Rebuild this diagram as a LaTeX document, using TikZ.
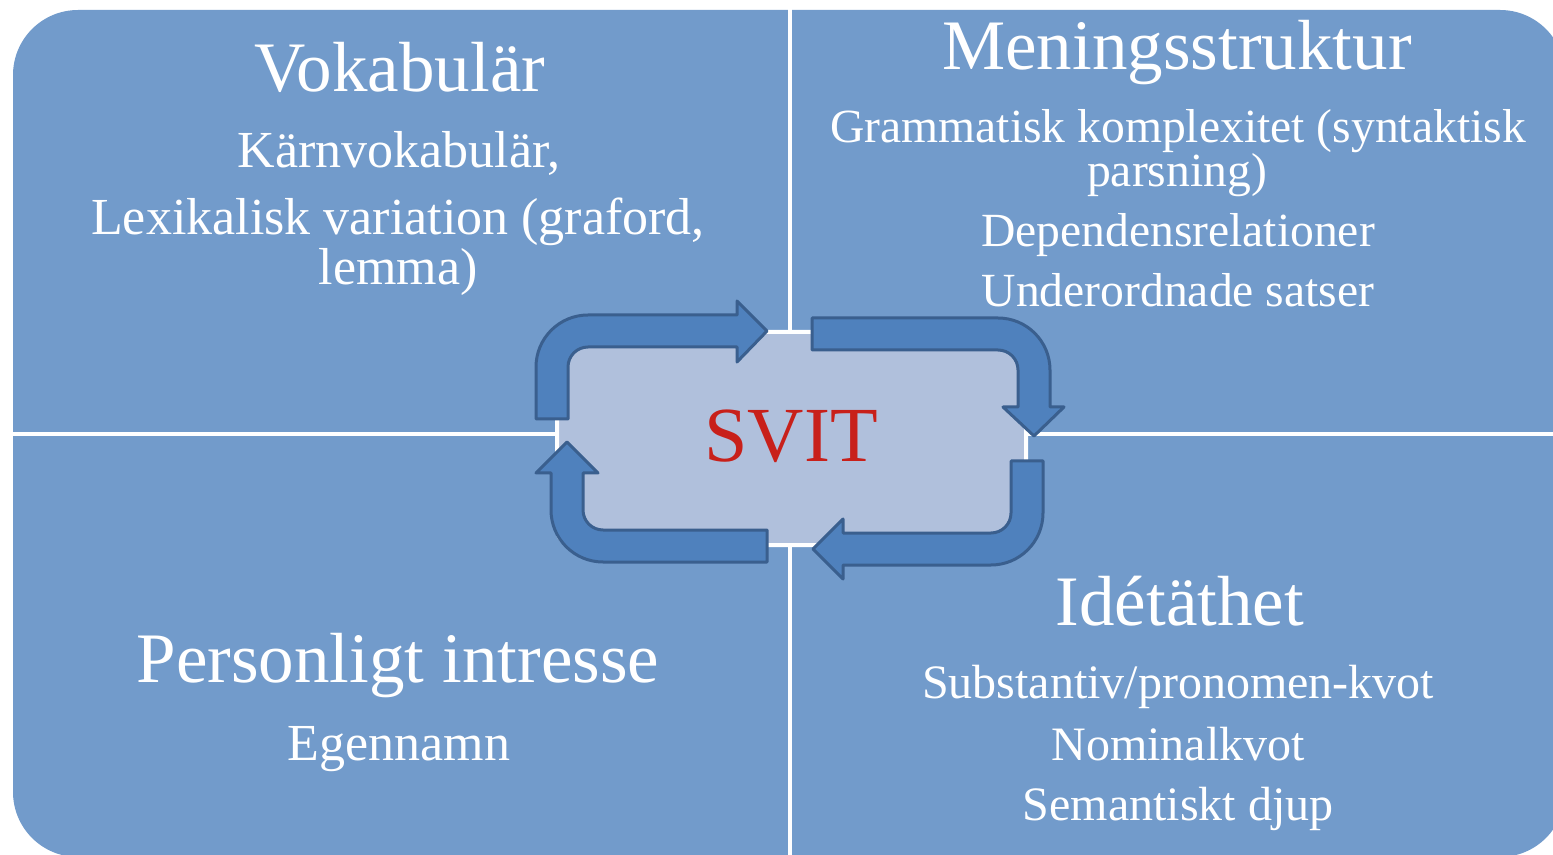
\documentclass[tikz,border=0pt]{standalone}
\usepackage{fontspec}
\setmainfont{Liberation Serif}
\usepackage{tikz}
\definecolor{quadblue}{HTML}{729BCB}
\definecolor{midblue}{HTML}{B0C0DC}
\definecolor{arrowblue}{HTML}{4F81BD}
\definecolor{arrowedge}{HTML}{3A5F8E}
\definecolor{svitred}{HTML}{C8201A}
\tikzstyle{panel} = [fill=quadblue]
\tikzstyle{divider} = [draw=white, line width=2pt]
\tikzstyle{midbox} = [fill=midblue, draw=white, line width=2pt, rounded corners=8pt]
\tikzstyle{turn} = [fill=arrowblue, draw=arrowedge, line width=1.5pt, line join=round]
\tikzstyle{head} = [text=white, anchor=base, inner sep=0pt, font=\fontsize{35.5}{36}\selectfont]
\tikzstyle{subl} = [text=white, anchor=base, inner sep=0pt, font=\fontsize{26}{26}\selectfont]
\tikzstyle{subr} = [text=white, anchor=base, inner sep=0pt, font=\fontsize{23.8}{24}\selectfont]
\tikzstyle{subb} = [text=white, anchor=base, inner sep=0pt, font=\fontsize{24}{24}\selectfont]
\tikzstyle{core} = [text=svitred, anchor=base, inner sep=0pt, font=\fontsize{39}{40}\selectfont]

\begin{document}
\begin{tikzpicture}[x=0.5pt,y=-0.5pt]

\useasboundingbox (0,0) rectangle (1553,855);
\clip (0,0) rectangle (1553,855);

% four panels
\fill [panel, rounded corners=32.5pt] (13,10) rectangle (1565,857);
\draw [divider] (789.5,0) -- (789.5,860);
\draw [divider] (0,434.5) -- (1570,434.5);

% middle box
\filldraw [midbox] (557,332) rectangle (1026,545);

% cycle arrows
\filldraw [turn] (536,419) -- (536,367) arc[start angle=180, end angle=270, radius=52]
  -- (737,315) -- (737,301) -- (767,331) -- (737,362) -- (737,347) -- (588,347)
  arc[start angle=270, end angle=180, radius=20] -- (568,419) -- cycle;
\filldraw [turn] (812,318) -- (998,318) arc[start angle=270, end angle=360, radius=52]
  -- (1050,407) -- (1064,407) -- (1034,436) -- (1003,407) -- (1018,407) -- (1018,370)
  arc[start angle=0, end angle=-90, radius=20] -- (812,350) -- cycle;
\filldraw [turn] (1043,461) -- (1043,513) arc[start angle=0, end angle=90, radius=52]
  -- (843,565) -- (843,579) -- (813,549) -- (843,519) -- (843,533) -- (991,533)
  arc[start angle=90, end angle=0, radius=20] -- (1011,461) -- cycle;
\filldraw [turn] (767,562) -- (603,562) arc[start angle=90, end angle=180, radius=52]
  -- (551,473) -- (536,473) -- (567,442) -- (598,473) -- (583,473) -- (583,510)
  arc[start angle=180, end angle=90, radius=20] -- (767,530) -- cycle;

\node (svit) [core] at (791,462) {SVIT};

% texts
\node (vok) [head] at (400,92) {Vokabulär};
\node (karn) [subl] at (399,168) {Kärnvokabulär,};
\node (lex) [subl] at (398,235) {Lexikalisk variation (graford,};
\node (lemma) [subl] at (398,285) {lemma)};

\node (men) [head] at (1177,70) {Meningsstruktur};
\node (gram) [subr] at (1178,143) {Grammatisk komplexitet (syntaktisk};
\node (pars) [subr] at (1177,187) {parsning)};
\node (dep) [subr] at (1178,247) {Dependensrelationer};
\node (und) [subr] at (1178,307) {Underordnade satser};

\node (pers) [head] at (398,682) {Personligt intresse};
\node (egen) [subl] at (399,760) {Egennamn};

\node (ide) [head] at (1180,625) {Idétäthet};
\node (subst) [subb] at (1178,698) {Substantiv/pronomen-kvot};
\node (nom) [subb] at (1178,760) {Nominalkvot};
\node (sem) [subb] at (1178,820) {Semantiskt djup};

\end{tikzpicture}
\end{document}
